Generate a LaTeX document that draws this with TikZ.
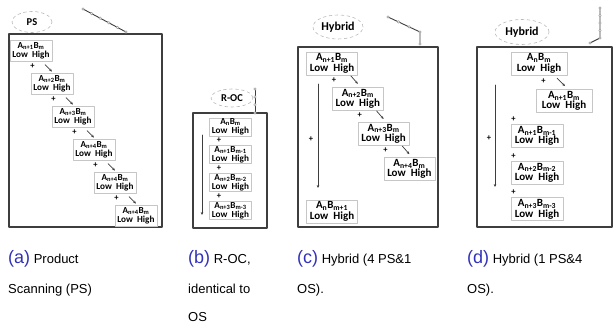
\documentclass[tikz,border=0pt]{standalone}
\usepackage{fontspec}
\setmainfont{Liberation Sans}
\newfontfamily\cellfont{Carlito}
\usetikzlibrary{arrows.meta,calc,shapes.geometric}

\definecolor{capblue}{RGB}{50,50,185}
\definecolor{framegray}{RGB}{62,62,62}

% text of one partial-product cell
\newcommand{\cellAB}[2]{A\textsubscript{#1}B\textsubscript{#2}\\Low\ \ High}
% blue sub-figure letter
\newcommand{\subtag}[1]{{\color{capblue}\fontsize{18}{18}\selectfont(#1)}}

\tikzset{
  frame/.style={draw=framegray, line width=1.1pt},
  cell/.style={draw=gray!45, line width=0.8pt, fill=white, inner sep=0pt, align=center},
  cell small/.style={cell, minimum width=42pt, minimum height=21pt,
    font=\cellfont\bfseries\fontsize{9.2}{9}\selectfont},
  cell big/.style={cell, minimum width=#1, minimum height=23pt,
    font=\cellfont\bfseries\fontsize{11}{10.5}\selectfont},
  cell big/.default=51pt,
  plus/.style={font=\cellfont\bfseries\fontsize{8.5}{8.5}\selectfont, inner sep=0pt},
  tip/.style={-{Stealth[length=3pt,width=2.6pt]}, line width=0.7pt, framegray},
  tag/.style={ellipse, draw=gray!55, dashed, line width=0.6pt, inner sep=0pt,
    font=\cellfont\bfseries\fontsize{10.5}{10.5}\selectfont},
  route/.style={draw=framegray, line width=0.9pt},
  dotmark/.style={circle, draw=gray!80, fill=white, line width=0.5pt, inner sep=0pt, minimum size=2.6pt},
  caption/.style={anchor=base west, inner sep=0pt, font=\fontsize{13}{13}\selectfont}
}

\begin{document}
\begin{tikzpicture}[x=1pt,y=-1pt,line join=round,line cap=round]
  \useasboundingbox (0,0) rectangle (613,323);

  % (a) product scanning
  \draw[frame] (9,34) rectangle (162,227);
  \node[tag, minimum width=40pt, minimum height=21pt] (tag a) at (32,22) {PS};
  \coordinate (ra1) at (83,9);
  \coordinate (ra2) at (126,32);
  \draw[route] (ra1) -- (ra2);
  \foreach \t in {0,0.2,...,1.01}
    \node[dotmark] at ($(ra1)!\t!(ra2)$) {};
  \foreach \i/\s in {0/1,1/2,2/3,3/4,4/4,5/4}
    \node[cell small] (a\i) at ({31+21*\i},{50.5+33*\i}) {\cellAB{n+\s}{m}};
  \foreach \i [evaluate=\i as \j using int(\i+1)] in {0,...,4} {
    \node[plus] at ([shift={(2,-6)}]a\j.north west) {+};
    \draw[tip] ([shift={(-7,-8)}]a\j.north) -- ([shift={(0,-1)}]a\j.north);
  }

  % (b) R-OC
  \draw[frame] (193,113) rectangle (267,228);
  \node[tag, minimum width=42pt, minimum height=18pt] (tag b) at (232,98) {R-OC};
  \coordinate (rb1) at (255,89);
  \coordinate (rb2) at (255,113);
  \draw[route] (rb1) -- (rb2);
  \foreach \t in {0,0.33,0.66,1}
    \node[dotmark] at ($(rb1)!\t!(rb2)$) {};
  \foreach \i/\s/\u in {0/n/m,1/n+1/m-1,2/n+2/m-2,3/n+3/m-3}
    \node[cell small, minimum height=18pt] (b\i) at (230.5,{127+27.8*\i}) {\cellAB{\s}{\u}};
  \foreach \j in {1,2,3}
    \node[plus] at ([shift={(10,-5)}]b\j.north west) {+};
  \coordinate (b top) at (202,135);
  \coordinate (b end) at (202,215);
  \draw[tip] (b top) -- (b end);

  % (c) hybrid, 4 PS & 1 OS
  \draw[frame] (298,47) rectangle (438,227);
  \node[tag, minimum width=50pt, minimum height=24pt, font=\cellfont\bfseries\fontsize{12}{12}\selectfont] (tag c) at (338,27) {Hybrid};
  \coordinate (rc1) at (388,17);
  \coordinate (rc2) at (420,32);
  \coordinate (rc3) at (420,44);
  \draw[route] (rc1) -- (rc2) -- (rc3);
  \foreach \t in {0,0.33,0.66}
    \node[dotmark] at ($(rc1)!\t!(rc2)$) {};
  \node[dotmark] at (rc2) {};
  \node[dotmark] at (rc3) {};
  \foreach \i/\s in {0/1,1/2,2/3,3/4}
    \node[cell big] (c\i) at ({332+25.8*\i},{63.5+35.2*\i}) {\cellAB{n+\s}{m}};
  \node[cell big] (c4) at (332,211.5) {\cellAB{n}{m+1}};
  \foreach \i [evaluate=\i as \j using int(\i+1)] in {0,1,2} {
    \node[plus] at ([shift={(2,-7)}]c\j.north west) {+};
    \draw[tip] ([shift={(-7,-11)}]c\j.north) -- ([shift={(0,-3)}]c\j.north);
  }
  \coordinate (c top) at (318,84);
  \coordinate (c end) at (318,188);
  \draw[tip] (c top) -- (c end);
  \node[plus] at (311,139) {+};

  % (d) hybrid, 1 PS & 4 OS
  \draw[frame] (477,47) rectangle (612,227);
  \node[tag, minimum width=54pt, minimum height=25pt, font=\cellfont\bfseries\fontsize{12}{12}\selectfont] (tag d) at (522,32) {Hybrid};
  \coordinate (rd1) at (600,8);
  \coordinate (rd2) at (600,38);
  \coordinate (rd3) at (590,43);
  \draw[route] (rd1) -- (rd2) -- (rd3);
  \foreach \t in {0,0.25,...,1.01}
    \node[dotmark] at ($(rd1)!\t!(rd2)$) {};
  \node[dotmark] at (rd3) {};
  \node[cell big=56pt] (d0) at (539,63.5) {\cellAB{n}{m}};
  \node[cell big=56pt] (d1) at (564,101) {\cellAB{n+1}{m}};
  \foreach \i/\s/\u in {2/n+1/m-1,3/n+2/m-2,4/n+3/m-3}
    \node[cell big=52pt] (d\i) at (537,{136+36.7*(\i-2)}) {\cellAB{\s}{\u}};
  \node[plus] at ([shift={(8,-8)}]d1.north west) {+};
  \draw[tip] ([shift={(-7,-11)}]d1.north) -- ([shift={(1,-3)}]d1.north);
  \foreach \j in {2,3,4}
    \node[plus] at ([shift={(3,-5)}]d\j.north west) {+};
  \coordinate (d top) at (495,85);
  \coordinate (d end) at (495,187);
  \draw[tip] (d top) -- (d end);
  \node[plus] at (489,138) {+};

  % sub-figure captions
  \node[caption] (cap a1) at (8,263) {\subtag{a} Product};
  \node[caption] (cap a2) at (8,293) {Scanning (PS)};
  \node[caption] (cap b1) at (188,263) {\subtag{b} R-OC,};
  \node[caption] (cap b2) at (188,293) {identical to};
  \node[caption] (cap b3) at (188,321) {OS};
  \node[caption] (cap c1) at (297,263) {\subtag{c} Hybrid (4 PS\&1};
  \node[caption] (cap c2) at (297,293) {OS).};
  \node[caption] (cap d1) at (467,263) {\subtag{d} Hybrid (1 PS\&4};
  \node[caption] (cap d2) at (467,293) {OS).};
\end{tikzpicture}
\end{document}
